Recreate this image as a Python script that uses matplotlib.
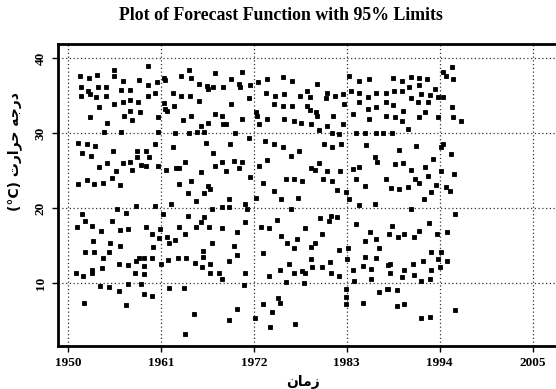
import numpy as np
import matplotlib.pyplot as plt

years = [
    1951.4, 1952.5, 1953.4, 1955.4, 1955.5, 1956.5, 1958.4, 1951.6, 1952.4, 1953.6,
    1954.5, 1956.3, 1957.4, 1951.6, 1952.6, 1953.3, 1954.5, 1955.4, 1956.5, 1957.4,
    1958.3, 1953.7, 1952.6, 1956.6, 1957.4, 1957.6, 1958.5, 1954.6, 1954.3, 1956.3,
    1951.2, 1952.3, 1953.2, 1955.3, 1951.7, 1952.7, 1958.2, 1954.6, 1953.7, 1956.5,
    1957.3, 1958.2, 1955.7, 1957.6, 1958.7, 1951.2, 1952.2, 1953.1, 1954.1, 1955.2,
    1956.1, 1958.0, 1955.8, 1951.7, 1956.9, 1952.0, 1951.1, 1952.8, 1955.2, 1953.9,
    1956.1, 1957.1, 1953.0, 1955.0, 1952.0, 1953.1, 1954.1, 1956.1, 1954.8, 1952.9,
    1954.0, 1956.0, 1957.1, 1958.1, 1958.4, 1951.0, 1951.8, 1952.9, 1957.9, 1953.8,
    1954.9, 1956.0, 1957.1, 1958.7, 1951.9, 1956.9,
    1959.5, 1964.3, 1967.4, 1961.4, 1959.5, 1960.5, 1961.5, 1963.4, 1964.6, 1965.5,
    1966.4, 1968.3, 1959.5, 1960.3, 1962.4, 1963.4, 1964.4, 1965.5, 1966.6, 1967.2,
    1961.4, 1961.5, 1962.5, 1960.7, 1961.7, 1963.6, 1964.6, 1965.7, 1966.6, 1967.4,
    1968.2, 1968.4, 1960.7, 1962.7, 1964.3, 1965.3, 1966.1, 1960.3, 1966.3, 1959.2,
    1959.6, 1962.4, 1967.2, 1968.2, 1959.2, 1960.7, 1961.6, 1962.8, 1963.8, 1963.1,
    1965.7, 1967.4, 1963.2, 1964.6, 1966.6, 1964.2, 1966.1, 1966.8, 1965.1, 1960.3,
    1962.2, 1967.0, 1968.2, 1961.2, 1964.2, 1966.1, 1959.2, 1960.9, 1963.2, 1963.8,
    1965.1, 1965.8, 1966.7, 1968.2, 1960.0, 1961.7, 1962.7, 1960.8, 1961.9, 1967.0,
    1960.1, 1960.0, 1959.0, 1961.8, 1963.0, 1964.0, 1966.0, 1965.0, 1966.8, 1966.0,
    1965.9, 1959.0, 1961.0, 1959.0, 1966.8, 1967.9, 1968.2, 1961.9, 1963.7, 1959.9,
    1959.0, 1964.9, 1963.8,
    1970.6, 1969.3, 1970.2, 1971.5, 1972.5, 1973.5, 1975.5, 1976.5, 1970.4, 1973.4,
    1974.5, 1975.6, 1977.5, 1978.3, 1969.3, 1971.4, 1974.4, 1975.5, 1976.5, 1978.3,
    1972.2, 1972.4, 1973.6, 1972.6, 1975.6, 1976.7, 1977.6, 1970.6, 1968.7, 1969.8,
    1971.4, 1969.2, 1973.3, 1974.4, 1975.5, 1977.3, 1976.4, 1973.6, 1972.6, 1968.7,
    1969.7, 1970.2, 1970.6, 1971.6, 1973.1, 1974.4, 1975.8, 1976.7, 1977.7, 1975.2,
    1977.2, 1969.1, 1971.0, 1971.2, 1972.2, 1969.1, 1974.7, 1976.4, 1971.0, 1970.0,
    1972.8, 1973.8, 1975.2, 1975.9, 1977.1, 1978.1, 1976.7, 1969.6, 1970.0, 1973.1,
    1969.1, 1976.2, 1977.7, 1975.1, 1973.8, 1970.9, 1976.8, 1978.1, 1970.8, 1975.8,
    1977.9, 1973.1, 1974.9, 1975.1, 1970.0, 1969.1, 1974.1, 1972.1, 1973.9, 1976.9,
    1979.5, 1983.3, 1984.5, 1985.6, 1980.6, 1981.6, 1982.5, 1983.5, 1984.4, 1985.5,
    1986.5, 1987.6, 1978.6, 1979.4, 1978.6, 1979.5, 1980.5, 1981.4, 1982.7, 1984.4,
    1985.5, 1986.5, 1987.6, 1985.6, 1987.6, 1978.8, 1979.7, 1980.7, 1982.5, 1983.7,
    1981.3, 1982.1, 1984.1, 1985.2, 1986.5, 1987.3, 1980.3, 1981.3, 1982.3, 1985.3,
    1986.3, 1986.6, 1978.8, 1979.2, 1979.7, 1980.7, 1982.2, 1983.7, 1984.4, 1980.2,
    1981.2, 1981.8, 1984.1, 1985.2, 1987.7, 1982.9, 1983.3, 1986.3, 1984.5, 1979.8,
    1980.9, 1981.1, 1981.9, 1984.1, 1985.7, 1988.0, 1980.1, 1979.2, 1978.8, 1982.1,
    1983.1, 1985.2, 1986.5, 1986.8, 1978.8, 1981.0, 1983.0, 1985.1, 1986.5, 1987.9,
    1983.7, 1984.9, 1985.9, 1978.9, 1980.1, 1981.1, 1982.1, 1983.9, 1985.9, 1982.9,
    1982.9, 1982.9, 1984.9, 1986.8, 1987.8,
    1995.4, 1994.4, 1994.7, 1995.6, 1988.5, 1989.5, 1990.6, 1991.5, 1992.5, 1988.6,
    1989.5, 1990.4, 1991.5, 1993.4, 1993.8, 1994.4, 1995.4, 1988.5, 1990.6, 1991.4,
    1992.6, 1991.8, 1992.8, 1989.6, 1988.7, 1989.5, 1991.6, 1992.3, 1993.8, 1995.6,
    1996.5, 1990.2, 1988.3, 1994.4, 1994.2, 1991.2, 1989.2, 1995.3, 1993.2, 1988.7,
    1989.6, 1990.6, 1992.2, 1994.1, 1995.7, 1991.1, 1991.5, 1992.6, 1989.2, 1990.2,
    1993.6, 1994.8, 1993.0, 1992.1, 1995.2, 1988.2, 1995.8, 1990.6, 1988.3, 1992.7,
    1989.8, 1991.6, 1989.1, 1993.7, 1994.9, 1991.0, 1993.0, 1994.1, 1994.9, 1993.8,
    1992.0, 1988.1, 1990.8, 1989.8, 1993.0, 1994.0, 1988.1, 1991.0, 1989.5, 1991.8,
    1992.8, 1987.9, 1988.9, 1989.8, 1988.9, 1995.8, 1991.8, 1992.8,
]
temps = [
    37.6, 37.4, 37.8, 38.4, 37.6, 36.9, 37.1, 36.2, 35.6, 36.1,
    36.2, 35.8, 35.7, 35.0, 35.2, 34.8, 34.9, 33.9, 34.1, 34.4,
    34.1, 33.5, 32.2, 32.3, 33.0, 31.7, 32.8, 31.4, 30.1, 30.2,
    28.7, 28.5, 28.3, 27.6, 27.4, 27.0, 27.6, 26.0, 25.5, 26.0,
    26.1, 26.8, 25.0, 25.1, 25.7, 23.2, 23.7, 23.2, 23.3, 24.0,
    23.1, 20.3, 19.9, 19.2, 19.3, 18.3, 17.5, 17.6, 18.3, 16.9,
    17.1, 17.2, 15.6, 15.3, 14.2, 14.1, 13.4, 14.9, 14.1, 11.7,
    12.0, 12.5, 12.4, 12.9, 13.4, 11.3, 11.0, 11.4, 11.3, 9.6,
    9.5, 9.0, 9.9, 9.9, 7.3, 7.1,
    39.0, 38.4, 38.0, 37.4, 36.4, 36.8, 37.1, 37.6, 37.3, 36.6,
    36.3, 36.1, 34.9, 35.4, 35.4, 34.9, 34.9, 34.3, 35.9, 36.1,
    34.0, 33.2, 33.6, 32.2, 33.0, 31.7, 32.3, 31.0, 31.4, 32.5,
    32.3, 31.2, 30.1, 30.0, 30.0, 30.1, 30.2, 28.6, 28.7, 27.6,
    26.8, 28.2, 27.4, 26.1, 25.6, 25.6, 25.1, 25.4, 26.1, 25.3,
    24.8, 25.6, 23.2, 23.6, 22.9, 22.0, 22.0, 22.5, 21.0, 20.3,
    20.6, 19.9, 20.1, 19.2, 19.0, 18.8, 17.5, 17.2, 17.5, 16.6,
    17.5, 18.1, 17.5, 17.3, 16.6, 16.2, 15.7, 16.0, 15.3, 15.4,
    14.8, 13.4, 13.4, 13.1, 13.4, 13.4, 13.5, 12.7, 12.5, 14.3,
    12.2, 12.3, 12.6, 11.2, 11.4, 11.4, 10.5, 9.4, 9.4, 8.3,
    8.6, 5.9, 3.2,
    38.1, 37.2, 36.6, 36.4, 36.8, 37.2, 37.5, 37.0, 36.2, 35.4,
    34.9, 35.2, 35.0, 35.6, 33.9, 34.7, 33.9, 33.6, 33.6, 33.6,
    32.8, 32.3, 31.9, 31.2, 31.9, 31.6, 31.4, 31.9, 31.2, 30.0,
    29.4, 28.5, 28.9, 28.5, 28.1, 27.6, 26.9, 26.4, 25.6, 25.0,
    26.3, 25.3, 26.1, 24.1, 23.4, 22.3, 23.9, 23.9, 23.6, 21.2,
    21.4, 21.2, 20.5, 19.9, 21.3, 20.1, 18.4, 19.9, 18.2, 16.8,
    17.5, 17.4, 16.3, 15.4, 15.9, 17.4, 14.7, 14.9, 13.7, 14.0,
    13.0, 12.6, 11.6, 11.7, 11.0, 11.4, 11.4, 11.3, 9.8, 10.1,
    10.0, 7.2, 8.0, 7.4, 6.5, 5.1, 6.1, 5.3, 4.2, 4.6,
    36.6, 37.6, 36.9, 37.2, 35.4, 35.0, 35.2, 35.6, 35.3, 34.8,
    35.3, 35.3, 34.8, 32.8, 33.1, 32.3, 34.7, 32.3, 33.9, 34.1,
    33.2, 33.5, 34.1, 31.9, 32.3, 31.2, 30.4, 30.9, 31.2, 32.5,
    30.0, 29.9, 30.0, 30.0, 30.0, 30.0, 28.6, 28.2, 28.6, 28.4,
    26.8, 26.1, 25.3, 25.1, 26.0, 24.9, 24.9, 25.2, 25.5, 23.9,
    23.6, 22.4, 23.9, 22.9, 23.9, 22.2, 21.2, 20.6, 20.4, 18.7,
    18.3, 19.0, 18.8, 17.9, 16.8, 16.5, 16.5, 15.4, 14.8, 14.4,
    14.7, 15.6, 15.9, 14.7, 13.2, 12.8, 13.2, 13.5, 13.4, 12.4,
    11.7, 12.3, 11.9, 12.1, 12.1, 11.4, 11.0, 10.3, 10.5, 9.2,
    8.1, 7.2, 7.4, 8.8, 9.2,
    38.8, 38.1, 37.6, 37.2, 37.3, 36.9, 37.5, 37.4, 37.2, 35.6,
    35.6, 36.2, 36.4, 35.9, 34.8, 34.8, 33.5, 33.8, 34.7, 34.2,
    34.2, 35.2, 35.1, 33.0, 32.2, 31.6, 32.1, 32.8, 32.2, 32.1,
    31.6, 30.5, 30.0, 28.5, 28.1, 28.3, 27.7, 27.2, 26.5, 25.9,
    26.0, 25.1, 25.5, 24.9, 24.5, 23.9, 23.3, 24.3, 22.5, 22.8,
    23.1, 22.8, 22.2, 21.2, 22.3, 22.7, 19.2, 19.9, 17.6, 18.0,
    16.6, 17.0, 16.2, 16.5, 16.8, 16.2, 14.1, 14.1, 12.9, 13.2,
    12.9, 12.5, 12.6, 11.7, 11.7, 12.2, 11.4, 11.1, 10.8, 10.3,
    10.5, 9.2, 9.1, 7.2, 7.0, 6.4, 5.3, 5.5,
]
x_ticks = [1950, 1961, 1972, 1983, 1994, 2005]
y_ticks = [10, 20, 30, 40]

# Persian labels, shaped by hand (presentation forms, visual order)
x_label = '\uFEE5\uFE8E\uFEE3\uFEAF'   # zaman
y_label = '(\u00B0C) \uFE95\uFEAD\uFE8D\uFEAE\uFEA3 \uFEEA\uFE9F\uFEAD\uFEA9'   # daraje harart (C)

serif = ['Liberation Serif', 'DejaVu Serif']

fig = plt.figure(figsize=(5.56, 3.89), dpi=100)
ax = fig.add_axes([58/556, 43/389, 500/556, 302/389])

ax.plot(years, temps, 's', color='black', markersize=3.3, markeredgewidth=0.6)

ax.set_xlim(1948.82, 2008.0)
ax.set_ylim(1.6, 41.87)
ax.set_xticks(x_ticks)
ax.set_yticks(y_ticks)
ax.set_xticklabels([str(t) for t in x_ticks], family=serif, fontweight='bold', fontsize=9.5)
ax.set_yticklabels([str(t) for t in y_ticks], family=serif, fontweight='bold', fontsize=9.5,
                   rotation=90, va='center')
ax.tick_params(length=4, width=1, color='black', pad=4)
ax.grid(True, color='black', linestyle=(0, (1, 2)), linewidth=0.9, alpha=0.8)
ax.set_axisbelow(True)
for s in ax.spines.values():
    s.set_linewidth(2)

fig.text(281/556, 1 - 15/389, 'Plot of Forecast Function with 95% Limits', family=serif,
         fontweight='bold', fontsize=12.8, ha='center', va='center')
fig.text(303/556, 1 - 382/389, x_label, family=['DejaVu Sans'], fontweight='bold',
         fontsize=10, ha='center', va='center')
fig.text(15/556, 1 - 152/389, y_label, family=['DejaVu Sans'], fontweight='bold',
         fontsize=10, ha='center', va='center', rotation=90)

fig.savefig('out.png', dpi=100)
